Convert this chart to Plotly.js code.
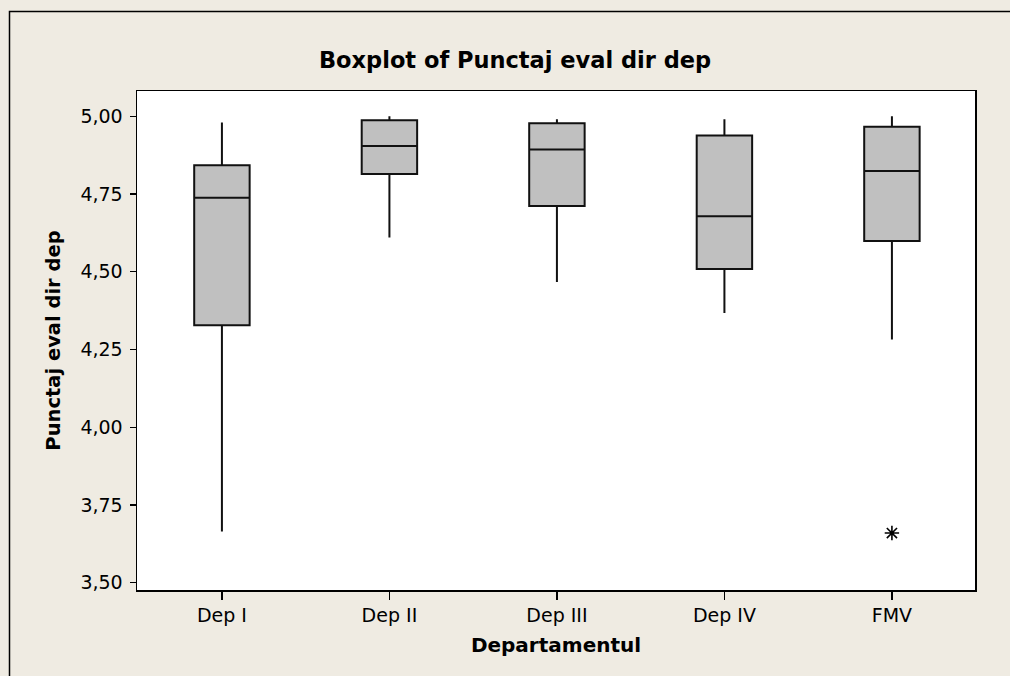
<!DOCTYPE html>
<html>
<head>
<meta charset="utf-8">
<script src="https://cdn.plot.ly/plotly-3.0.1.min.js"></script>
<style>
  html, body { margin: 0; padding: 0; background: #EFEBE2; }
  #chart { width: 1010px; height: 676px; }
</style>
</head>
<body>
<div id="chart"></div>
<script>
// Data
var categories = ["Dep I", "Dep II", "Dep III", "Dep IV", "FMV"];
var upperWhisker = [4.98, 5.00, 4.99, 4.99, 5.00];
var q3Values     = [4.842, 4.987, 4.977, 4.938, 4.966];
var medianValues = [4.738, 4.904, 4.893, 4.678, 4.824];
var q1Values     = [4.328, 4.814, 4.711, 4.509, 4.599];
var lowerWhisker = [3.665, 4.610, 4.467, 4.367, 4.282];
var outlierCats  = ["FMV"];
var outlierVals  = [3.66];
var yTickVals    = [3.50, 3.75, 4.00, 4.25, 4.50, 4.75, 5.00];
var yTickText    = ["3,50", "3,75", "4,00", "4,25", "4,50", "4,75", "5,00"];

var fontFam = "DejaVu Sans, Verdana, sans-serif";

var boxTrace = {
  type: "box",
  x: categories,
  q1: q1Values,
  median: medianValues,
  q3: q3Values,
  lowerfence: lowerWhisker,
  upperfence: upperWhisker,
  width: 0.331,
  whiskerwidth: 0,
  fillcolor: "#C0C0C0",
  line: { color: "#111111", width: 2 },
  boxpoints: false,
  hoverinfo: "skip",
  showlegend: false
};

var outlierTrace = {
  type: "scatter",
  mode: "markers",
  x: outlierCats,
  y: outlierVals,
  marker: { symbol: "asterisk-open", size: 12, color: "#000", line: { color: "#000", width: 1.6 } },
  showlegend: false,
  hoverinfo: "skip"
};

// outer frame position (pixels) converted to paper coords
var L = 137, R = 975, T = 91, B = 590;
function px2x(p) { return (p - L) / (R - L); }
function py2y(p) { return (B - p) / (B - T); }

var layout = {
  width: 1010,
  height: 676,
  paper_bgcolor: "#EFEBE2",
  plot_bgcolor: "#FFFFFF",
  margin: { l: L, r: 1010 - R, t: T, b: 676 - B },
  font: { family: fontFam, color: "#000" },
  title: {
    text: "<b>Boxplot of Punctaj eval dir dep</b>",
    font: { family: fontFam, size: 22.5, color: "#000" },
    xref: "container", x: 0.51, xanchor: "center",
    yref: "container", y: 1 - 60 / 676, yanchor: "middle"
  },
  xaxis: {
    type: "category",
    range: [-0.507, 4.496],
    showline: true, mirror: true, linecolor: "#000", linewidth: 1.5,
    ticks: "outside", ticklen: 8, tickwidth: 1.3, tickcolor: "#000",
    tickfont: { family: fontFam, size: 19, color: "#000" },
    showgrid: false, zeroline: false,
    title: { text: "<b>Departamentul</b>", font: { family: fontFam, size: 20, color: "#000" }, standoff: 12 }
  },
  yaxis: {
    range: [3.477, 5.081],
    tickvals: yTickVals, ticktext: yTickText,
    showline: true, mirror: true, linecolor: "#000", linewidth: 1.5,
    ticks: "outside", ticklen: 6, tickwidth: 1.3, tickcolor: "#000",
    tickfont: { family: fontFam, size: 19, color: "#000" },
    ticklabelstandoff: 3,
    showgrid: false, zeroline: false,
    title: { text: "<b>Punctaj eval dir dep</b>", font: { family: fontFam, size: 19.5, color: "#000" }, standoff: 14 }
  },
  shapes: [
    {
      type: "path", xref: "paper", yref: "paper",
      path: "M " + px2x(9.5) + " " + py2y(690) + " L " + px2x(9.5) + " " + py2y(11.5) + " L " + px2x(1020) + " " + py2y(11.5),
      line: { color: "#000", width: 1.5 }
    }
  ]
};

Plotly.newPlot("chart", [boxTrace, outlierTrace], layout, { displayModeBar: false, staticPlot: true });
</script>
</body>
</html>
